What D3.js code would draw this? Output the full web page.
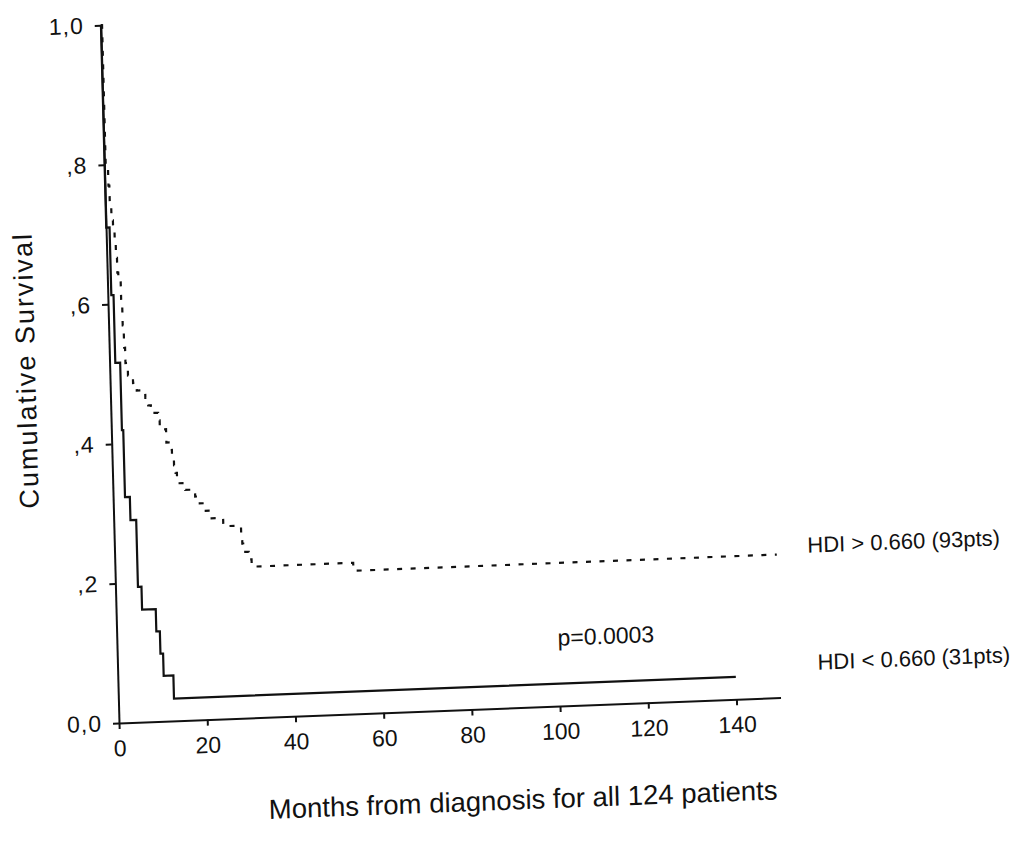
<!DOCTYPE html>
<html>
<head>
<meta charset="utf-8">
<script src="https://cdn.jsdelivr.net/npm/d3@7"></script>
<style>
  body { margin: 0; background: #fff; }
  svg { display: block; }
  .tick text { font-family: "Liberation Sans", Arial, sans-serif; }
</style>
</head>
<body>
<script>
// Kaplan-Meier steps: time (months) -> survival after the step
const hiTime = [0, 0.3, 0.8, 1.0, 1.3, 1.6, 1.9, 2.1, 2.3, 2.5, 3.0, 3.2, 3.4, 3.6, 4.1,
  5.2, 6.0, 7.9, 8.5, 9.1, 10.7, 11.0, 12.4, 13.2, 13.6, 14.0, 14.3, 14.6, 16.4, 18.6,
  19.6, 20.5, 22.2, 24.8, 28.8, 29.0, 29.2, 30.4, 31.0, 54.0, 150]
const hiSurv = [1.0, 0.80, 0.77, 0.745, 0.72, 0.709, 0.688, 0.666, 0.645, 0.633, 0.601, 0.569, 0.537, 0.515, 0.497,
  0.486, 0.475, 0.464, 0.453, 0.442, 0.431, 0.418, 0.399, 0.388, 0.377, 0.366, 0.355, 0.340, 0.330, 0.320,
  0.310, 0.299, 0.288, 0.276, 0.262, 0.250, 0.238, 0.227, 0.2165, 0.205, 0.205]

const loTime = [0, 0.05, 0.8, 1.3, 2.4, 2.7, 3.8, 5.1, 5.9, 9.0, 9.8, 10.4, 12.6, 140]
const loSurv = [1.0, 0.710, 0.613, 0.516, 0.419, 0.323, 0.290, 0.194, 0.161, 0.129, 0.097, 0.065, 0.032, 0.032]

const xTicks = [0, 20, 40, 60, 80, 100, 120, 140]
const yTicks = [0, 0.2, 0.4, 0.6, 0.8, 1.0]
const yTickLabels = ['0,0', ',2', ',4', ',6', ',8', '1,0']

const hiLabel = 'HDI > 0.660 (93pts)'
const loLabel = 'HDI < 0.660 (31pts)'
const pLabel = 'p=0.0003'
const xTitle = 'Months from diagnosis for all 124 patients'
const yTitle = 'Cumulative  Survival'

const W = 1022, H = 845
const plotW = 662, plotH = 698
const ox = 119, oy = 723
// the scan is a little skewed: x axis climbs ~2.2 deg, y axis leans ~1.5 deg
const ax = 2.2 * Math.PI / 180, ay = 1.5 * Math.PI / 180

const font = '"Liberation Sans", Arial, sans-serif'
const ink = '#111'

const svg = d3.select('body').append('svg')
  .attr('width', W)
  .attr('height', H)

const g = svg.append('g')
  .attr('transform', `matrix(${Math.cos(ax)},${-Math.sin(ax)},${Math.sin(ay)},${Math.cos(ay)},${ox},${oy})`)

const x = d3.scaleLinear().domain([0, 150]).range([0, plotW])
const y = d3.scaleLinear().domain([0, 1]).range([0, -plotH])

// axes
const xAxis = g.append('g')
  .call(d3.axisBottom(x).tickValues(xTicks).tickSize(6).tickSizeOuter(0).tickPadding(11).tickFormat(d3.format('d')))
xAxis.selectAll('text').attr('font-size', 23).attr('fill', ink)

const yAxis = g.append('g')
  .call(d3.axisLeft(y).tickValues(yTicks).tickSize(6).tickSizeOuter(0).tickPadding(11)
    .tickFormat((d, i) => yTickLabels[i]))
yAxis.selectAll('text').attr('font-size', 23).attr('letter-spacing', 1).attr('fill', ink)

g.selectAll('.domain, .tick line').attr('stroke', ink).attr('stroke-width', 2)

// curves
const step = d3.line()
  .x(d => x(d[0]))
  .y(d => y(d[1]))
  .curve(d3.curveStepAfter)

g.append('path')
  .datum(loTime.map((t, i) => [t, loSurv[i]]))
  .attr('d', step)
  .attr('fill', 'none')
  .attr('stroke', ink)
  .attr('stroke-width', 2.2)

g.append('path')
  .datum(hiTime.map((t, i) => [t, hiSurv[i]]))
  .attr('d', step)
  .attr('fill', 'none')
  .attr('stroke', ink)
  .attr('stroke-width', 2.2)
  .attr('stroke-dasharray', '5,8.5')

// labels
g.append('text')
  .attr('x', x(157))
  .attr('y', y(0.217))
  .attr('dy', '0.35em')
  .attr('font-family', font)
  .attr('font-size', 22)
  .attr('fill', ink)
  .text(hiLabel)

g.append('text')
  .attr('x', x(158.6))
  .attr('y', y(0.049))
  .attr('dy', '0.35em')
  .attr('font-family', font)
  .attr('font-size', 22)
  .attr('fill', ink)
  .text(loLabel)

g.append('text')
  .attr('x', x(110.8))
  .attr('y', y(0.098))
  .attr('dy', '0.35em')
  .attr('text-anchor', 'middle')
  .attr('font-family', font)
  .attr('font-size', 23)
  .attr('fill', ink)
  .text(pLabel)

g.append('text')
  .attr('x', 402)
  .attr('y', 92)
  .attr('dy', '0.35em')
  .attr('text-anchor', 'middle')
  .attr('font-family', font)
  .attr('font-size', 27.5)
  .attr('fill', ink)
  .text(xTitle)

g.append('text')
  .attr('transform', 'translate(-84,-356) rotate(-90)')
  .attr('dy', '0.35em')
  .attr('text-anchor', 'middle')
  .attr('font-family', font)
  .attr('font-size', 27)
  .attr('letter-spacing', 2)
  .attr('fill', ink)
  .text(yTitle)
</script>
</body>
</html>
